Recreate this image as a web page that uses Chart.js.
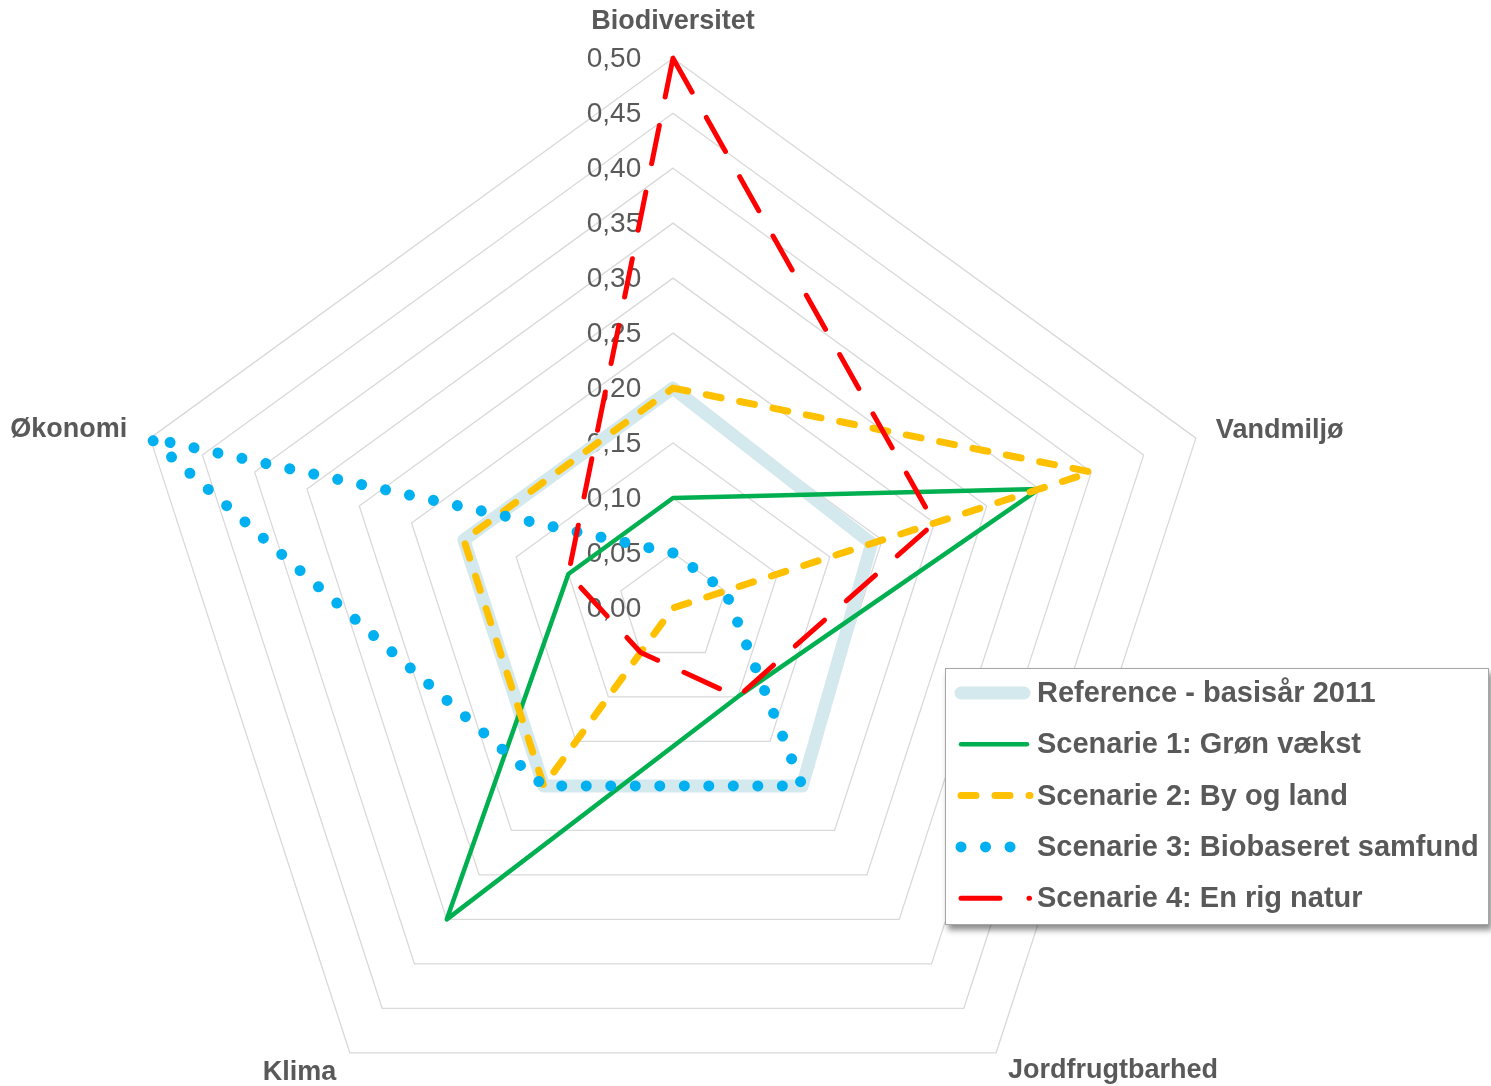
<!DOCTYPE html>
<html>
<head>
<meta charset="utf-8">
<script src="https://cdn.jsdelivr.net/npm/chart.js@4.4.0/dist/chart.umd.min.js"></script>
<style>
  html, body { margin: 0; padding: 0; background: #fff; overflow: hidden; width: 1491px; height: 1086px; }
  /* canvas is larger than the window so the radar can get the same size as in the original */
  #wrap { position: absolute; left: -150px; top: -21px; width: 1646px; height: 1206px; }
</style>
</head>
<body>
<div id="wrap"><canvas id="radar"></canvas></div>
<script>
const categories = ['Biodiversitet', 'Vandmiljø', 'Jordfrugtbarhed', 'Klima', 'Økonomi'];
const seriesLabels = [
  'Reference - basisår 2011',
  'Scenarie 1: Grøn vækst',
  'Scenarie 2: By og land',
  'Scenarie 3: Biobaseret samfund',
  'Scenarie 4: En rig natur'
];
const referenceValues = [0.20, 0.19, 0.20, 0.20, 0.20];
const scenario1Values = [0.10, 0.35, 0.10, 0.35, 0.10];
const scenario2Values = [0.20, 0.40, 0.00, 0.20, 0.20];
const scenario3Values = [0.05, 0.05, 0.20, 0.20, 0.50];
const scenario4Values = [0.50, 0.25, 0.10, 0.05, 0.10];
const axisMax = 0.5;
const tickStep = 0.05;

const SHIFT_X = 150;   // same as #wrap offset
const SHIFT_Y = 21;
const textGray = '#595959';
const fontFamily = 'Arial, "Liberation Sans", Helvetica, sans-serif';

const seriesStyles = [
  { color: '#d4e9ed', width: 13, dash: [] },
  { color: '#00b050', width: 4.5, dash: [] },
  { color: '#ffc000', width: 7, dash: [15, 19] },
  { color: '#00b0f0', width: 11, dash: [0.01, 24.5] },
  { color: '#ff0000', width: 5, dash: [39, 29] }
];
const labelPadding = [20.8, 21, 20, 23, 24];

Chart.defaults.font.family = fontFamily;

function formatTick(v) {
  return v.toFixed(2).replace('.', ',');
}

// tick labels sit left of the vertical axis, like in Excel
const tickLabels = {
  id: 'tickLabels',
  beforeDatasetsDraw(chart) {
    const r = chart.scales.r;
    const ctx = chart.ctx;
    ctx.save();
    ctx.font = '28px ' + fontFamily;
    ctx.fillStyle = textGray;
    ctx.textAlign = 'center';
    ctx.textBaseline = 'middle';
    r.ticks.forEach(t => {
      const d = r.getDistanceFromCenterForValue(t.value);
      ctx.fillText(formatTick(t.value), r.xCenter - 59, r.yCenter - d + 1);
    });
    ctx.restore();
  }
};

const boxLegend = {
  id: 'boxLegend',
  afterDraw(chart) {
    const ctx = chart.ctx;
    ctx.save();
    ctx.translate(SHIFT_X, SHIFT_Y);

    ctx.shadowColor = 'rgba(0,0,0,0.45)';
    ctx.shadowBlur = 6;
    ctx.shadowOffsetX = 3;
    ctx.shadowOffsetY = 5;
    ctx.fillStyle = '#fff';
    ctx.fillRect(945, 668, 544, 257);
    ctx.shadowColor = 'transparent';
    ctx.strokeStyle = '#a6a6a6';
    ctx.lineWidth = 1;
    ctx.strokeRect(945.5, 668.5, 543, 256);

    const ends = [1024, 1027, 1030, 1012, 1029.5];
    chart.data.datasets.forEach((ds, i) => {
      const y = 693 + i * 51.3;
      ctx.beginPath();
      ctx.strokeStyle = ds.borderColor;
      ctx.lineWidth = ds.borderWidth;
      ctx.lineCap = 'round';
      ctx.setLineDash(ds.borderDash);
      ctx.moveTo(961, y);
      ctx.lineTo(ends[i], y);
      ctx.stroke();
      ctx.setLineDash([]);

      ctx.fillStyle = textGray;
      ctx.font = 'bold 29px ' + fontFamily;
      ctx.textBaseline = 'middle';
      ctx.textAlign = 'left';
      ctx.fillText(ds.label, 1037, y + 1);
    });
    ctx.restore();
  }
};

const seriesValues = [referenceValues, scenario1Values, scenario2Values, scenario3Values, scenario4Values];

const datasets = seriesValues.map((vals, i) => ({
  label: seriesLabels[i],
  data: vals,
  borderColor: seriesStyles[i].color,
  borderWidth: seriesStyles[i].width,
  borderDash: seriesStyles[i].dash,
  borderCapStyle: 'round',
  borderJoinStyle: 'round',
  backgroundColor: 'transparent',
  fill: false,
  pointRadius: 0,
  pointHoverRadius: 0,
  order: seriesValues.length - 1 - i
}));

new Chart(document.getElementById('radar'), {
  type: 'radar',
  data: { labels: categories, datasets: datasets },
  options: {
    responsive: true,
    maintainAspectRatio: false,
    animation: false,
    devicePixelRatio: 1,
    layout: { padding: 0 },
    plugins: {
      legend: { display: false },
      tooltip: { enabled: false }
    },
    scales: {
      r: {
        min: 0,
        max: axisMax,
        ticks: { stepSize: tickStep, display: false },
        grid: { color: '#d9d9d9', lineWidth: 1.3 },
        angleLines: { display: false },
        pointLabels: {
          color: textGray,
          // small line height on the side labels keeps them level with the corner, as in Excel
          font: (c) => ({ size: 27, weight: 'bold', lineHeight: c.index === 0 ? 1.2 : 0.1 }),
          padding: (c) => labelPadding[c.index]
        }
      }
    }
  },
  plugins: [tickLabels, boxLegend]
});
</script>
</body>
</html>
